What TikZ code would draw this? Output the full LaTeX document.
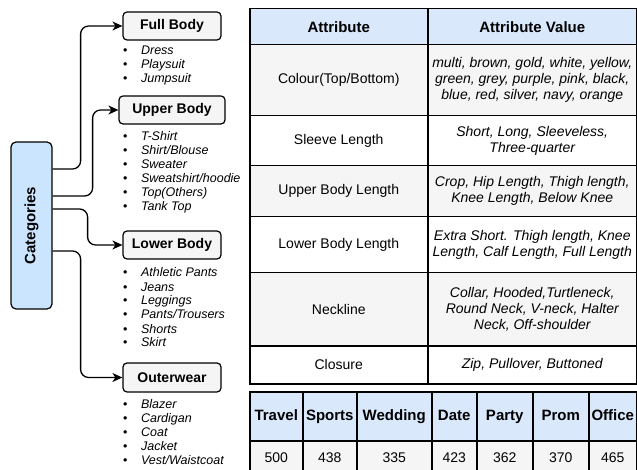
\documentclass[tikz,border=0pt]{standalone}
\usepackage{fontspec}
\setmainfont{Liberation Sans}
\usetikzlibrary{arrows.meta}
\definecolor{hdr}{HTML}{DAE8FC}
\definecolor{rowg}{HTML}{F5F5F5}
\definecolor{catblue}{HTML}{CCE5FF}
\newcommand\itm[1]{\textbullet & \textit{#1}\\}
\begin{document}
\begin{tikzpicture}[x=1pt,y=-1pt,
  catbox/.style={draw=black, line width=1.2pt, fill=rowg, rounded corners=4pt,
    font=\bfseries\fontsize{14}{16}\selectfont, minimum width=98pt, minimum height=28pt, inner sep=0},
  rootbox/.style={draw=black, line width=1.2pt, fill=catblue, rounded corners=5pt,
    minimum width=41pt, minimum height=167pt, inner sep=0},
  conn/.style={line width=1.3pt, rounded corners=8pt, -{Stealth[length=10pt,width=9pt,inset=3pt]}},
  itemlist/.style={anchor=base west, inner sep=0, font=\fontsize{12.5}{14}\selectfont},
  cell/.style={draw=black, line width=1.5pt, anchor=north west, inner sep=0, align=center,
    font=\fontsize{14}{16}\selectfont},
  hcell/.style={cell, fill=hdr, font=\bfseries\fontsize{15}{17}\selectfont},
  ocell/.style={hcell, minimum height=49pt, text height=11pt, text depth=3.5pt},
  ncell/.style={cell, fill=rowg, minimum height=35pt, text height=10pt, text depth=1pt},
  vcell/.style={cell, font=\itshape\fontsize{14}{16}\selectfont},
]
\useasboundingbox (0,0) rectangle (637,470);

% ---- left: categories ----
\node[rootbox] (cat) at (31.5,225.5) {};
\node[rotate=90, inner sep=0, font=\bfseries\fontsize{15}{17}\selectfont] (catlbl) at (cat.center) {Categories};

\node[catbox] (full) at (172,26) {Full Body};
\node[catbox, minimum width=106pt] (upper) at (172,110) {Upper Body};
\node[catbox] (lower) at (172,245) {Lower Body};
\node[catbox, minimum height=29pt] (outer) at (172,377.5) {Outerwear};

\draw[conn] ([yshift=56.5pt]cat.east) -- ++(28pt,0) |- (full.west);
\draw[conn] ([yshift=29.5pt]cat.east) -- ++(40pt,0) |- (upper.west);
\draw[conn] ([yshift=16.5pt]cat.east) -- ++(35pt,0) |- (lower.west);
\draw[conn] ([yshift=-25.5pt]cat.east) -- ++(28pt,0) |- (outer.west);

\node[itemlist] (l1) at (123,55) {\begin{tabular}[t]{@{}l@{\hspace{13.5pt}}l@{}}
\itm{Dress}\itm{Playsuit}\itm{Jumpsuit}\end{tabular}};
\node[itemlist] (l2) at (123,141) {\begin{tabular}[t]{@{}l@{\hspace{13.5pt}}l@{}}
\itm{T-Shirt}\itm{Shirt/Blouse}\itm{Sweater}\itm{Sweatshirt/hoodie}\itm{Top(Others)}\itm{Tank Top}\end{tabular}};
\node[itemlist] (l3) at (123,277) {\begin{tabular}[t]{@{}l@{\hspace{13.5pt}}l@{}}
\itm{Athletic Pants}\itm{Jeans}\itm{Leggings}\itm{Pants/Trousers}\itm{Shorts}\itm{Skirt}\end{tabular}};
\node[itemlist] (l4) at (123,408) {\begin{tabular}[t]{@{}l@{\hspace{13.5pt}}l@{}}
\itm{Blazer}\itm{Cardigan}\itm{Coat}\itm{Jacket}\itm{Vest/Waistcoat}\end{tabular}};

% ---- attribute table ----
\node[hcell, minimum width=178pt, minimum height=36pt] (h1) at (249,8) {Attribute};
\node[hcell, minimum width=209pt, minimum height=36pt] (h2) at (427,8) {Attribute Value};

\node[cell, fill=rowg, minimum width=178pt, minimum height=71pt] (a1) at (249,44) {Colour(Top/Bottom)};
\node[vcell, fill=rowg, minimum width=209pt, minimum height=71pt] (v1) at (427,44)
  {multi, brown, gold, white, yellow,\\ green, grey, purple, pink, black,\\ blue, red, silver, navy, orange};
\node[cell, fill=white, minimum width=178pt, minimum height=50pt] (a2) at (249,115) {Sleeve Length};
\node[vcell, fill=white, minimum width=209pt, minimum height=50pt] (v2) at (427,115)
  {Short, Long, Sleeveless,\\ Three-quarter};
\node[cell, fill=rowg, minimum width=178pt, minimum height=51pt] (a3) at (249,165) {Upper Body Length};
\node[vcell, fill=rowg, minimum width=209pt, minimum height=51pt] (v3) at (427,165)
  {Crop, Hip Length, Thigh length,\\ Knee Length, Below Knee};
\node[cell, fill=white, minimum width=178pt, minimum height=56pt] (a4) at (249,216) {Lower Body Length};
\node[vcell, fill=white, minimum width=209pt, minimum height=56pt] (v4) at (427,216)
  {Extra Short. Thigh length, Knee\\ Length, Calf Length, Full Length};
\node[cell, fill=rowg, minimum width=178pt, minimum height=73pt] (a5) at (249,272) {Neckline};
\node[vcell, fill=rowg, minimum width=209pt, minimum height=73pt] (v5) at (427,272)
  {Collar, Hooded,Turtleneck,\\ Round Neck, V-neck, Halter\\ Neck, Off-shoulder};
\node[cell, fill=white, minimum width=178pt, minimum height=38pt] (a6) at (249,345) {Closure};
\node[vcell, fill=white, minimum width=209pt, minimum height=38pt] (v6) at (427,345)
  {Zip, Pullover, Buttoned};

% ---- occasion table ----
\node[ocell, minimum width=53pt] (o1) at (249,391) {Travel};
\node[ocell, minimum width=54pt] (o2) at (302,391) {Sports};
\node[ocell, minimum width=75pt] (o3) at (356,391) {Wedding};
\node[ocell, minimum width=45pt] (o4) at (431,391) {Date};
\node[ocell, minimum width=56pt] (o5) at (476,391) {Party};
\node[ocell, minimum width=56pt] (o6) at (532,391) {Prom};
\node[ocell, minimum width=48pt] (o7) at (588,391) {Office};

\node[ncell, minimum width=53pt] (n1) at (249,440) {500};
\node[ncell, minimum width=54pt] (n2) at (302,440) {438};
\node[ncell, minimum width=75pt] (n3) at (356,440) {335};
\node[ncell, minimum width=45pt] (n4) at (431,440) {423};
\node[ncell, minimum width=56pt] (n5) at (476,440) {362};
\node[ncell, minimum width=56pt] (n6) at (532,440) {370};
\node[ncell, minimum width=48pt] (n7) at (588,440) {465};
\end{tikzpicture}
\end{document}
